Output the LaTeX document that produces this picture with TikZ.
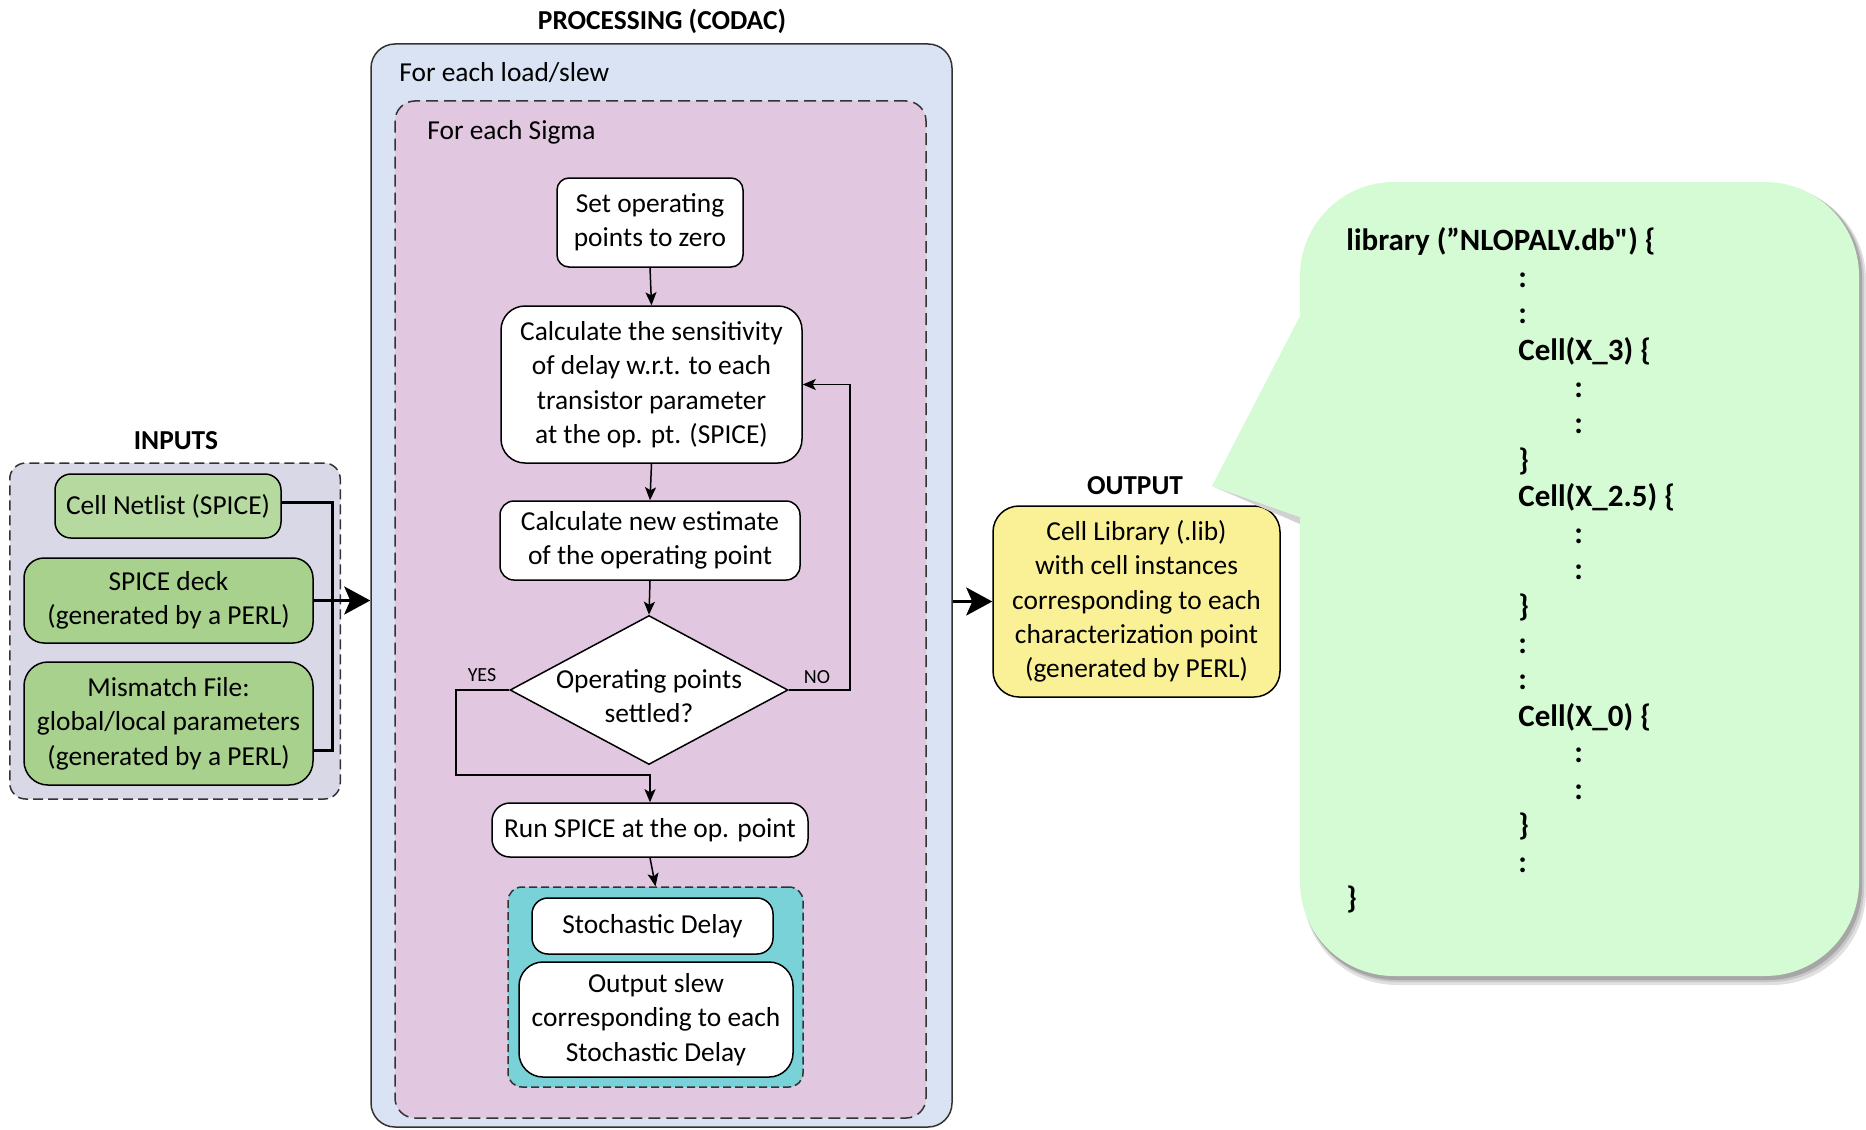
\documentclass[tikz,border=0pt]{standalone}
\usepackage{fontspec}
\setmainfont{Carlito}
\usetikzlibrary{arrows.meta,shapes.geometric,calc}
\definecolor{inbg}{RGB}{217,216,230}
\definecolor{netg}{RGB}{181,217,159}
\definecolor{greenb}{RGB}{169,209,142}
\definecolor{outerbg}{RGB}{218,227,243}
\definecolor{pinkbg}{RGB}{225,199,224}
\definecolor{tealbg}{RGB}{120,210,216}
\definecolor{yelbg}{RGB}{250,241,150}
\definecolor{calbg}{RGB}{213,251,213}
\newcommand{\straightquote}{\XeTeXglyph\XeTeXcharglyph"22\relax}
\begin{document}
\begin{tikzpicture}[x=0.5pt,y=-0.5pt,
  every node/.style={font=\fontsize{13.7}{17.2}\selectfont},
  box/.style={draw=black, line width=0.75pt, align=center, inner sep=0pt},
  ttl/.style={font=\fontsize{13.7}{17.2}\selectfont\bfseries, inner sep=0pt},
  lbl/.style={font=\fontsize{10}{12}\selectfont, inner sep=0pt},
  arr/.style={line width=0.75pt, -{Stealth[length=6.5pt,width=5.5pt,inset=1.5pt]}},
  bigarr/.style={line width=1.5pt, -{Stealth[length=13pt,width=14pt,inset=3pt]}},
  link/.style={line width=1.5pt},
  code/.style={font=\fontsize{15.5}{18}\selectfont\bfseries, anchor=base west, inner sep=0pt},
  dashbox/.style={draw=black!80, line width=0.75pt, dash pattern=on 5pt off 2.5pt},
]
\useasboundingbox (0,0) rectangle (1866,1129);
\fill[white] (0,0) rectangle (1866,1129);

% ---------------- INPUTS ----------------
\node[ttl] (tin) at (176,441) {INPUTS};
\node[dashbox, fill=inbg, rounded corners=8pt, minimum width=165.25pt, minimum height=168pt, inner sep=0pt] (inbox) at (175,631) {};
\node[box, fill=netg, rounded corners=8pt, minimum width=113pt, minimum height=32pt] (netlist) at (168,506) {Cell Netlist (SPICE)};
\node[box, fill=greenb, rounded corners=10pt, minimum width=144.5pt, minimum height=42.5pt] (deck) at (168.5,600.5) {SPICE deck\\(generated by a PERL)};
\node[box, fill=greenb, rounded corners=12pt, minimum width=144.5pt, minimum height=61.5pt] (mism) at (168.5,723.5) {Mismatch File:\\global/local parameters\\(generated by a PERL)};
\coordinate (jtop) at (332,502);
\coordinate (jbot) at (332,750);

% ---------------- PROCESSING ----------------
\node[ttl] (tproc) at (662,21) {PROCESSING (CODAC)};
\node[draw=black!80, line width=0.75pt, fill=outerbg, rounded corners=12pt, minimum width=290.5pt, minimum height=541.5pt, inner sep=0pt] (outer) at (661.5,585.5) {};
\node[anchor=west, inner sep=0pt] (tload) at (399,73) {For each load/slew};
\node[dashbox, dash pattern=on 6pt off 3pt, fill=pinkbg, rounded corners=10pt, minimum width=265.5pt, minimum height=508.5pt, inner sep=0pt] (pink) at (660.5,609.5) {};
\node[anchor=west, inner sep=0pt] (tsig) at (427,132) {For each Sigma};

\node[box, fill=white, rounded corners=6pt, minimum width=93pt, minimum height=44.5pt] (setop) at (650,222.5) {Set operating\\points to zero};
\node[box, fill=white, rounded corners=12pt, minimum width=150.5pt, minimum height=78.5pt] (sens) at (651.5,384.5) {Calculate the sensitivity\\of delay w.r.t. to each\\transistor parameter\\at the op. pt. (SPICE)};
\node[box, fill=white, rounded corners=7pt, minimum width=150pt, minimum height=39.5pt] (calc) at (650,540.5) {Calculate new estimate\\of the operating point};
\node[draw=black, line width=0.75pt, diamond, fill=white, inner sep=0pt, minimum width=139pt, minimum height=74.5pt] (dia) at (649,690) {};
\node[align=center, inner sep=0pt] (diat) at (649,696) {Operating points\\settled?};
\node[lbl] (yes) at (482,675) {YES};
\node[lbl] (no) at (817,677) {NO};
\node[box, fill=white, rounded corners=9pt, minimum width=158pt, minimum height=27pt] (run) at (650,830) {Run SPICE at the op. point};
\node[dashbox, dash pattern=on 4pt off 2pt, fill=tealbg, rounded corners=7pt, minimum width=147.5pt, minimum height=100pt, inner sep=0pt] (teal) at (655.5,987) {};
\node[box, fill=white, rounded corners=8pt, minimum width=120.5pt, minimum height=28pt] (stoch) at (652.5,926) {Stochastic Delay};
\node[box, fill=white, rounded corners=12pt, minimum width=137pt, minimum height=57.5pt] (oslew) at (656,1019.5) {Output slew\\corresponding to each\\Stochastic Delay};

\coordinate (yj) at (456,775);
\coordinate (nj) at (850,384.5);

% ---------------- OUTPUT ----------------
\node[ttl] (tout) at (1135,486) {OUTPUT};
\node[box, fill=yelbg, rounded corners=13pt, minimum width=143.5pt, minimum height=95.5pt] (yel) at (1136.5,601.5) {Cell Library (.lib)\\with cell instances\\corresponding to each\\characterization point\\(generated by PERL)};

% ---------------- CALLOUT ----------------
\fill[black!12, rounded corners=47pt] (1303,186) rectangle (1866,985);
\fill[black!22, rounded corners=47pt] (1303,185) rectangle (1864,982);
\fill[black!35, rounded corners=47pt] (1302,184) rectangle (1862,980);
\fill[black!18] (1212,486) -- (1300,524) -- (1300,517) -- cycle;
\node[fill=calbg, rounded corners=47pt, minimum width=279.5pt, minimum height=397pt, inner sep=0pt] (lib) at (1579.5,579) {};
\coordinate (ctop) at (1300,316);
\coordinate (ctip) at (1212,486);
\coordinate (cbot) at (1300,517);
\fill[calbg] ($(ctop)+(12,0)$) -- (ctop) -- (ctip) -- (cbot) -- ($(cbot)+(12,0)$) -- cycle;

\node[code] (c0)  at (1346,250.8) {library (”NLOPALV.db\straightquote) \{};
\node[code] (c1)  at (1518,287.4) {:};
\node[code] (c2)  at (1518,323.9) {:};
\node[code] (c3)  at (1518,360.5) {Cell(X\_3) \{};
\node[code] (c4)  at (1574,397.0) {:};
\node[code] (c5)  at (1574,433.6) {:};
\node[code] (c6)  at (1518,470.2) {\}};
\node[code] (c7)  at (1518,506.7) {Cell(X\_2.5) \{};
\node[code] (c8)  at (1574,543.3) {:};
\node[code] (c9)  at (1574,579.8) {:};
\node[code] (c10) at (1518,616.4) {\}};
\node[code] (c11) at (1518,653.0) {:};
\node[code] (c12) at (1518,689.5) {:};
\node[code] (c13) at (1518,726.1) {Cell(X\_0) \{};
\node[code] (c14) at (1574,762.6) {:};
\node[code] (c15) at (1574,799.2) {:};
\node[code] (c16) at (1518,835.8) {\}};
\node[code] (c17) at (1518,872.3) {:};
\node[code] (c18) at (1346,908.9) {\}};

% ---------------- CONNECTORS ----------------
\draw[link] (netlist.east |- jtop) -- (jtop) -- (jbot) -- (mism.east |- jbot);
\draw[bigarr] (deck.east) -- (outer.west |- deck.east);
\draw[bigarr] (outer.east |- yel.west) -- (yel.west);

\draw[arr] (setop.south) -- (sens.north);
\draw[arr] (sens.south) -- (calc.north);
\draw[arr] (calc.south) -- (dia.north);
\draw[arr] (dia.west) -| (yj) -- (run.north |- yj) -- (run.north);
\draw[arr] (dia.east) -| (nj) -- (sens.east);
\draw[arr] (run.south) -- (teal.north);
\end{tikzpicture}
\end{document}
